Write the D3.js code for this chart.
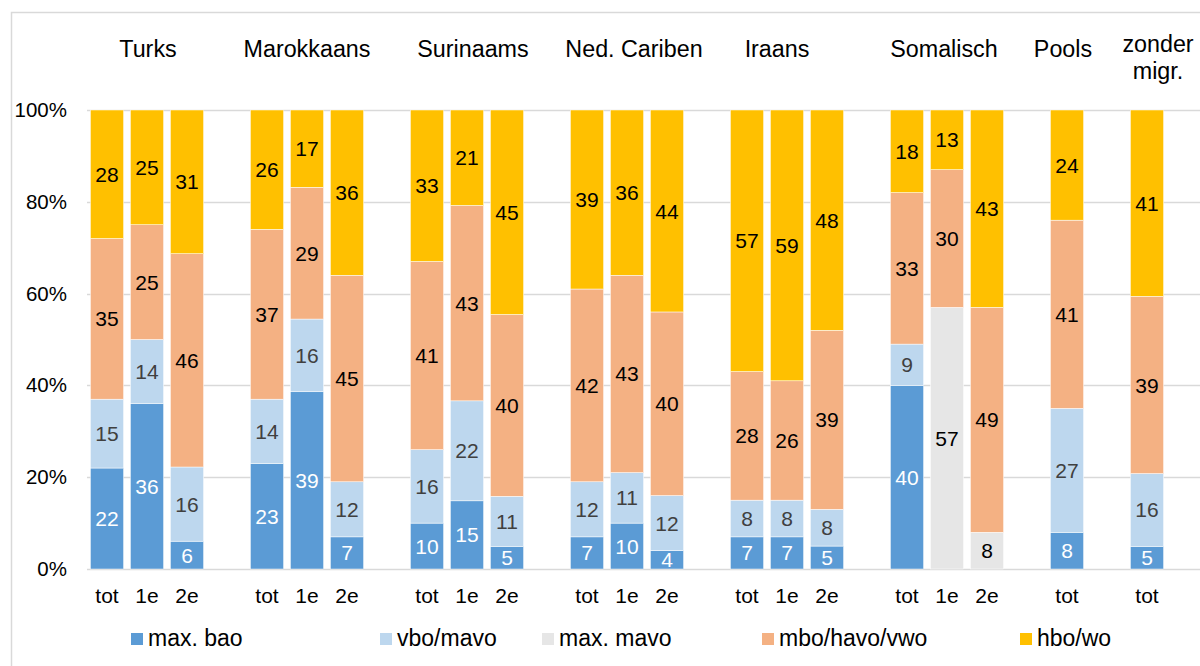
<!DOCTYPE html>
<html lang="nl">
<head>
<meta charset="UTF-8">
<title>Opleidingsniveau naar herkomst</title>
<script src="https://d3js.org/d3.v7.min.js"></script>
<style>
    body { margin: 0; background: #fff; }
    svg { display: block; font-family: "Liberation Sans", Arial, sans-serif; }
</style>
</head>
<body>
<svg width="1200" height="666"></svg>
<script>
// categories (empty string = gap between groups)
const categories = ["tot", "1e", "2e", "", "tot", "1e", "2e", "", "tot", "1e", "2e", "",
    "tot", "1e", "2e", "", "tot", "1e", "2e", "", "tot", "1e", "2e", "", "tot", "", "tot", ""];

// group titles and the slot they sit over
const groups = ["Turks", "Marokkaans", "Surinaams", "Ned. Cariben", "Iraans", "Somalisch", "Pools", "zonder\nmigr."];
const groupSlots = [1, 5, 9, 13, 17, 21, 24, 26];

const seriesNames = ["max. bao", "vbo/mavo", "max. mavo", "mbo/havo/vwo", "hbo/wo"];

// values per series, aligned with categories (null = gap)
const maxBao  = [22, 36, 6, null, 23, 39, 7, null, 10, 15, 5, null, 7, 10, 4, null, 7, 7, 5, null, 40, 0, 0, null, 8, null, 5, null];
const vboMavo = [15, 14, 16, null, 14, 16, 12, null, 16, 22, 11, null, 12, 11, 12, null, 8, 8, 8, null, 9, 0, 0, null, 27, null, 16, null];
const maxMavo = [0, 0, 0, null, 0, 0, 0, null, 0, 0, 0, null, 0, 0, 0, null, 0, 0, 0, null, 0, 57, 8, null, 0, null, 0, null];
const mboHavo = [35, 25, 46, null, 37, 29, 45, null, 41, 43, 40, null, 42, 43, 40, null, 28, 26, 39, null, 33, 30, 49, null, 41, null, 39, null];
const hboWo   = [28, 25, 31, null, 26, 17, 36, null, 33, 21, 45, null, 39, 36, 44, null, 57, 59, 48, null, 18, 13, 43, null, 24, null, 41, null];

const yTicks = [0, 0.2, 0.4, 0.6, 0.8, 1];

const colors = ["#5b9bd5", "#bdd7ee", "#e6e6e6", "#f4b183", "#ffc000"];
const labelColors = ["#ffffff", "#404040", "#000000", "#000000", "#000000"];
const legendX = [131, 380, 542, 762, 1020];
const groupDx = [1, 0, 6, 7, -10, -3, -4, 11];

const svg = d3.select("svg");
const plotTop = 110, plotBottom = 569, plotLeft = 87;

// outer frame
svg.append("rect")
    .attr("x", 11.5).attr("y", 12.5)
    .attr("width", 1300).attr("height", 800)
    .attr("fill", "none").attr("stroke", "#d9d9d9").attr("stroke-width", 1.5);

const x = d3.scaleBand()
    .domain(d3.range(categories.length))
    .range([plotLeft, plotLeft + 40 * categories.length])
    .paddingInner(0.17).paddingOuter(0.085);

const y = d3.scaleLinear().domain([0, 1]).range([plotBottom, plotTop]);

// build rows for stacking
const allSeries = [maxBao, vboMavo, maxMavo, mboHavo, hboWo];
const rows = categories.map((c, i) => {
    const r = { i: i, empty: maxBao[i] === null };
    seriesNames.forEach((s, k) => { r[s] = allSeries[k][i] || 0; });
    return r;
}).filter(r => !r.empty);

const stacked = d3.stack()
    .keys(seriesNames)
    .offset(d3.stackOffsetExpand)(rows);

// gridlines
svg.append("g")
    .selectAll("line")
    .data(yTicks)
    .join("line")
    .attr("x1", plotLeft).attr("x2", 1200)
    .attr("y1", d => Math.round(y(d)) + 0.5).attr("y2", d => Math.round(y(d)) + 0.5)
    .attr("stroke", "#d9d9d9").attr("stroke-width", 1.5);

// y axis labels
const yAxis = d3.axisLeft(y).tickValues(yTicks).tickFormat(d3.format(".0%")).tickSize(0).tickPadding(0);
svg.append("g")
    .attr("transform", "translate(67,0)")
    .call(yAxis)
    .call(g => g.select(".domain").remove())
    .selectAll("text")
    .attr("font-size", 20.5).attr("fill", "#000")
    .attr("font-family", "Liberation Sans, Arial, sans-serif");

// bars
const layers = svg.append("g")
    .selectAll("g")
    .data(stacked)
    .join("g")
    .attr("fill", (d, k) => colors[k]);

layers.selectAll("rect")
    .data(d => d.filter(p => p[1] > p[0]))
    .join("rect")
    .attr("x", d => x(d.data.i))
    .attr("width", x.bandwidth())
    .attr("y", d => y(d[1]))
    .attr("height", d => y(d[0]) - y(d[1]))
    .attr("stroke", "#fff").attr("stroke-width", 0.5);

// data labels
layers.each(function (layer, k) {
    d3.select(this).selectAll("text")
        .data(layer.filter(d => d.data[layer.key] > 0))
        .join("text")
        .attr("x", d => x(d.data.i) + x.bandwidth() / 2)
        .attr("y", d => (y(d[0]) + y(d[1])) / 2)
        .attr("dy", "0.36em")
        .attr("text-anchor", "middle")
        .attr("font-size", 21)
        .attr("fill", labelColors[k])
        .text(d => d.data[layer.key]);
});

// x axis labels
const xAxis = d3.axisBottom(x).tickFormat(i => categories[i]).tickSize(0).tickPadding(0);
svg.append("g")
    .attr("transform", "translate(0,588)")
    .call(xAxis)
    .call(g => g.select(".domain").remove())
    .selectAll("text")
    .attr("font-size", 21).attr("fill", "#000")
    .attr("font-family", "Liberation Sans, Arial, sans-serif");

// group titles
const titles = svg.append("g")
    .selectAll("text")
    .data(groups)
    .join("text")
    .attr("x", (d, j) => x(groupSlots[j]) + x.bandwidth() / 2 + groupDx[j])
    .attr("y", (d, j) => d.includes("\n") ? 52 : 57)
    .attr("text-anchor", "middle")
    .attr("font-size", 23.3)
    .attr("fill", "#000");

titles.selectAll("tspan")
    .data(d => d.split("\n"))
    .join("tspan")
    .attr("x", function () { return d3.select(this.parentNode).attr("x"); })
    .attr("dy", (d, n) => n === 0 ? 0 : 27)
    .text(d => d);

// legend
const legend = svg.append("g")
    .selectAll("g")
    .data(seriesNames)
    .join("g")
    .attr("transform", (d, k) => `translate(${legendX[k]},633)`);

legend.append("rect")
    .attr("width", 12).attr("height", 12)
    .attr("fill", (d, k) => colors[k]);

legend.append("text")
    .attr("x", 17).attr("y", 13)
    .attr("font-size", 23)
    .attr("fill", "#000")
    .text(d => d);
</script>
</body>
</html>
